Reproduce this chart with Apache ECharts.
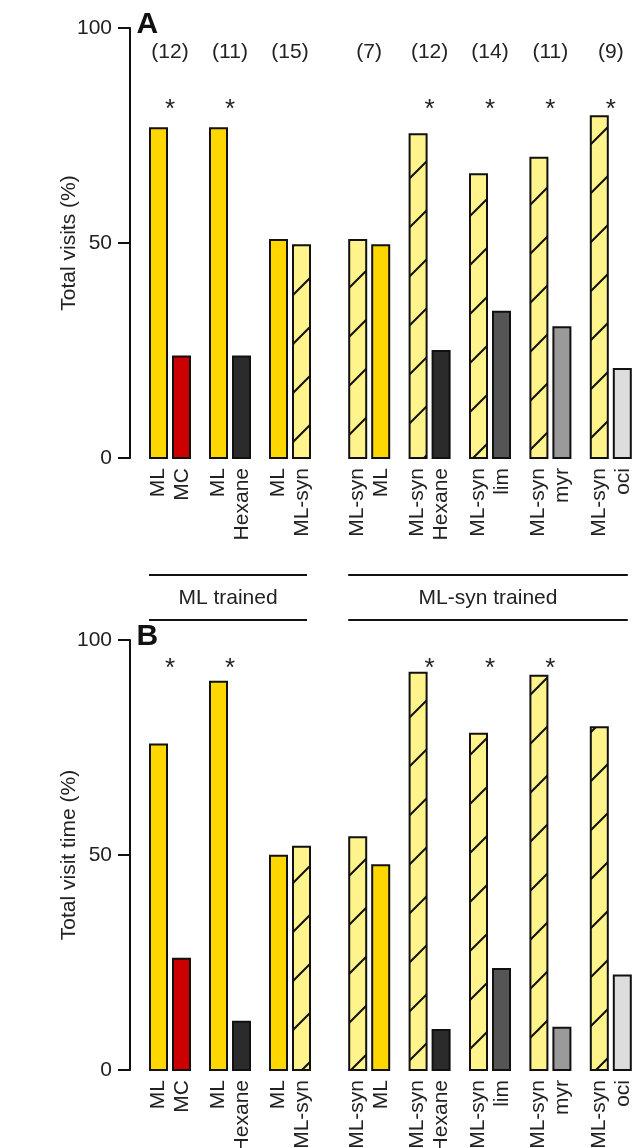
<!DOCTYPE html>
<html><head><meta charset="utf-8">
<script src="https://cdn.jsdelivr.net/npm/echarts@6/dist/echarts.min.js"></script>
<style>html,body{margin:0;padding:0;background:#fff}#c{width:637px;height:1148px}</style>
</head><body><div id="c"></div>
<script>
// ---- data ----
const groupNames = ['ML trained', 'ML-syn trained'];
const groupSizes = [3, 5];
const leftStimulus = ['ML', 'ML', 'ML', 'ML-syn', 'ML-syn', 'ML-syn', 'ML-syn', 'ML-syn'];
const rightStimulus = ['MC', 'Hexane', 'ML-syn', 'ML', 'Hexane', 'lim', 'myr', 'oci'];
const sampleSizes = ['(12)', '(11)', '(15)', '(7)', '(12)', '(14)', '(11)', '(9)'];
const visitsLeft = [76.7, 76.7, 50.7, 50.7, 75.3, 66.0, 69.8, 79.5];
const visitsRight = [23.6, 23.6, 49.5, 49.5, 24.9, 34.0, 30.4, 20.7];
const visitsSignificant = [true, true, false, false, true, true, true, true];
const timeLeft = [75.7, 90.3, 49.8, 54.1, 92.4, 78.2, 91.7, 79.7];
const timeRight = [25.9, 11.2, 51.9, 47.6, 9.3, 23.5, 9.8, 22.0];
const timeSignificant = [true, true, false, false, true, true, true, false];
const yTicks = [0, 50, 100];
const panelLetters = ['A', 'B'];
const yNames = ['Total visits (%)', 'Total visit time (%)'];

// ---- styles ----
const FONT = 'Liberation Sans, Arial, Helvetica, sans-serif';
const FS = 21;
const TXT = '#222';
const INK = '#111';
const stimulusColors = { 'ML': '#FFD700', 'ML-syn': '#FFF38C', 'MC': '#CC0000', 'Hexane': '#2B2B2B', 'lim': '#555555', 'myr': '#9A9A9A', 'oci': '#DDDDDD' };
const hatchedStimuli = ['ML-syn'];

function makeHatch(color) {
  const s = 49;
  const c = document.createElement('canvas');
  c.width = s; c.height = s;
  const g = c.getContext('2d');
  g.fillStyle = color; g.fillRect(0, 0, s, s);
  g.strokeStyle = INK; g.lineWidth = 2;
  for (const k of [-s, 0, s]) {
    g.beginPath(); g.moveTo(k - 2, s + 2); g.lineTo(k + s + 2, -2); g.stroke();
  }
  return c;
}
const hatchCache = {};
function fillFor(name) {
  if (hatchedStimuli.includes(name)) {
    if (!hatchCache[name]) hatchCache[name] = { image: makeHatch(stimulusColors[name]), repeat: 'repeat' };
    return hatchCache[name];
  }
  return stimulusColors[name];
}

const panels = [
  { top: 28, left: visitsLeft, right: visitsRight, sig: visitsSignificant, counts: true, starLevel: 81.0, countLevel: 94.4, groups: true },
  { top: 640, left: timeLeft, right: timeRight, sig: timeSignificant, counts: false, starLevel: 93.2, groups: false }
];
const gridX = [{ left: 140, width: 180 }, { left: 339, width: 302 }];
const plotH = 430;

const grids = [], xAxes = [], yAxes = [], series = [], graphics = [];
panels.forEach((p, pi) => {
  graphics.push({ type: 'text', x: 136.5, y: p.top - 3.5, style: { text: panelLetters[pi], font: 'bold 30px ' + FONT, fill: INK, verticalAlign: 'middle' } });
  let start = 0;
  groupSizes.forEach((n, gi) => {
    const gIdx = grids.length;
    const idx = [];
    for (let k = 0; k < n; k++) idx.push(start + k);
    grids.push({ left: gridX[gi].left, width: gridX[gi].width, top: p.top, height: plotH, containLabel: false, outerBoundsMode: 'none' });
    xAxes.push({
      type: 'category', gridIndex: gIdx,
      data: idx.map(i => leftStimulus[i] + '\n' + rightStimulus[i]),
      axisLine: { show: false }, axisTick: { show: false }, splitLine: { show: false },
      axisLabel: { rotate: 90, margin: 10, fontSize: FS, lineHeight: 24, color: TXT, fontFamily: FONT, interval: 0 }
    });
    yAxes.push({
      type: 'value', gridIndex: gIdx, show: gi === 0,
      min: yTicks[0], max: yTicks[yTicks.length - 1], interval: yTicks[1] - yTicks[0],
      offset: 10,
      axisLine: { show: true, lineStyle: { color: INK, width: 2 } },
      axisTick: { show: true, length: 12, lineStyle: { color: INK, width: 2 } },
      axisLabel: { fontSize: FS, margin: 18, color: TXT, fontFamily: FONT },
      splitLine: { show: false },
      name: yNames[pi], nameLocation: 'middle', nameGap: 50, nameMoveOverlap: false,
      nameTextStyle: { fontSize: FS, color: TXT, fontFamily: FONT }
    });
    series.push({
      type: 'custom', xAxisIndex: gIdx, yAxisIndex: gIdx,
      encode: { x: 0, y: [1, 2] },
      data: idx.map((i, k) => [k, p.left[i], p.right[i], i]),
      renderItem: function (params, api) {
        const k = api.value(0), i = api.value(3);
        const base = api.coord([k, 0]);
        const cx = base[0], y0 = base[1];
        const yl = api.coord([k, api.value(1)])[1];
        const yr = api.coord([k, api.value(2)])[1];
        const children = [
          { type: 'rect', shape: { x: cx - 20, y: yl, width: 17, height: y0 - yl }, style: { fill: fillFor(leftStimulus[i]), stroke: INK, lineWidth: 2 } },
          { type: 'rect', shape: { x: cx + 3, y: yr, width: 17, height: y0 - yr }, style: { fill: fillFor(rightStimulus[i]), stroke: INK, lineWidth: 2 } }
        ];
        if (p.counts) {
          const yc = api.coord([k, p.countLevel])[1];
          children.push({ type: 'text', x: cx, y: yc, style: { text: sampleSizes[i], font: FS + 'px ' + FONT, fill: TXT, align: 'center', verticalAlign: 'middle' } });
        }
        if (p.sig[i]) {
          const ys = api.coord([k, p.starLevel])[1];
          children.push({ type: 'text', x: cx, y: ys, style: { text: '*', font: '26px ' + FONT, fill: TXT, align: 'center', verticalAlign: 'middle' } });
        }
        return { type: 'group', children };
      }
    });
    if (p.groups) {
      series.push({
        type: 'custom', xAxisIndex: gIdx, yAxisIndex: gIdx,
        encode: { x: 0, y: 1 },
        data: [[0, 0, n - 1, gi]],
        renderItem: function (params, api) {
          const a = api.coord([api.value(0), 0]);
          const b = api.coord([api.value(2), 0]);
          const x1 = a[0] - 21, x2 = b[0] + 17, y0 = a[1];
          const name = groupNames[api.value(3)];
          return {
            type: 'group', children: [
              { type: 'line', shape: { x1, y1: y0 + 117, x2, y2: y0 + 117 }, style: { stroke: INK, lineWidth: 2 } },
              { type: 'line', shape: { x1, y1: y0 + 162, x2, y2: y0 + 162 }, style: { stroke: INK, lineWidth: 2 } },
              { type: 'text', x: (x1 + x2) / 2, y: y0 + 140, style: { text: name, font: FS + 'px ' + FONT, fill: TXT, align: 'center', verticalAlign: 'middle' } }
            ]
          };
        }
      });
    }
    start += n;
  });
});

const chart = echarts.init(document.getElementById('c'), null, { renderer: 'canvas' });
chart.setOption({
  animation: false,
  backgroundColor: '#fff',
  textStyle: { fontFamily: FONT },
  grid: grids, xAxis: xAxes, yAxis: yAxes, series,
  graphic: graphics
});
</script></body></html>
